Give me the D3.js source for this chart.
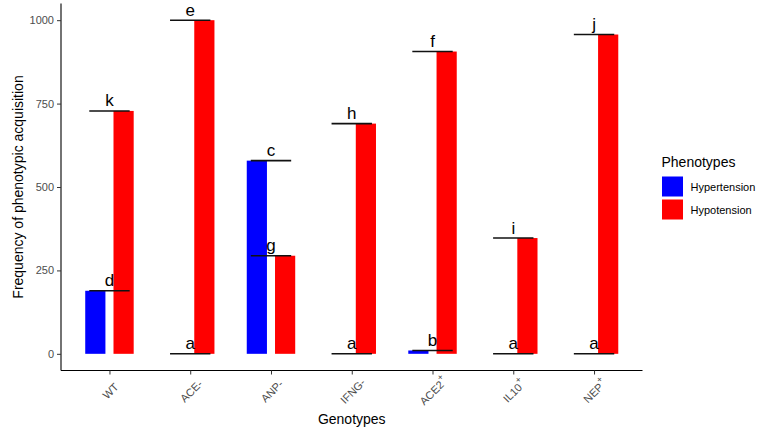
<!DOCTYPE html>
<html><head><meta charset="utf-8">
<script src="https://cdn.jsdelivr.net/npm/d3@7"></script>
<style>body{margin:0;background:#fff}svg{display:block}text{font-family:"Liberation Sans",Arial,sans-serif}</style>
</head><body>
<svg id="c" width="758" height="433"></svg>
<script>
const categories = ["WT","ACE-","ANP-","IFNG-","ACE2+","IL10+","NEP+"];
const hypertension = [189, 0, 579, 0, 10, 0, 0];
const hypotension = [728, 1000, 294, 690, 906, 347, 957];
const lettersHyper = ["d","a","c","a","b","a","a"];
const lettersHypo = ["k","e","g","h","f","i","j"];
const yTicks = [0, 250, 500, 750, 1000];
const phenotypes = ["Hypertension","Hypotension"];
const colors = ["#0000FF","#FF0000"];

const svg = d3.select("#c");
const L = 61, R = 642.5, T = 3.5, B = 370.5;
const x = d3.scalePoint().domain(categories).range([L, R]).padding(0.6);
const step = x.step();
const y = d3.scaleLinear().domain([-50, 1050]).range([B, T]);
const color = d3.scaleOrdinal().domain(phenotypes).range(colors);

const series = [hypertension, hypotension];
const letters = [lettersHyper, lettersHypo];
const bw = 0.25 * step, dodge = 0.175 * step;

// bars
series.forEach((vals, si) => {
  svg.append("g").selectAll("rect").data(vals).join("rect")
    .attr("x", (d, i) => x(categories[i]) + (si === 0 ? -dodge : dodge) - bw / 2)
    .attr("width", bw)
    .attr("y", d => Math.min(y(d), y(0)))
    .attr("height", d => Math.abs(y(0) - y(d)))
    .attr("fill", color(phenotypes[si]));
});

// letter lines + labels
series.forEach((vals, si) => {
  const g = svg.append("g");
  g.selectAll("line").data(vals).join("line")
    .attr("x1", (d, i) => x(categories[i]) - 0.25 * step)
    .attr("x2", (d, i) => x(categories[i]) + 0.25 * step)
    .attr("y1", d => y(d)).attr("y2", d => y(d))
    .attr("stroke", "#111").attr("stroke-width", 1.6);
  g.selectAll("text").data(vals).join("text")
    .attr("x", (d, i) => x(categories[i]))
    .attr("y", d => y(d) - 4.5)
    .attr("text-anchor", "middle")
    .attr("font-size", 17)
    .attr("fill", "#000")
    .text((d, i) => letters[si][i]);
});

// y axis
const ya = svg.append("g").attr("transform", `translate(${L},0)`)
  .call(d3.axisLeft(y).tickValues(yTicks).tickFormat(d3.format("d")).tickSize(4).tickPadding(3));
ya.select(".domain").attr("d", `M0,${T}V${B}`).attr("stroke", "#000").attr("stroke-width", 1.1);
ya.selectAll(".tick line").attr("stroke", "#333");
ya.selectAll(".tick text").attr("font-size", 11).attr("fill", "#4d4d4d")
  .style("font-family", '"Liberation Sans",Arial,sans-serif');

// x axis
const xa = svg.append("g").attr("transform", `translate(0,${B})`)
  .call(d3.axisBottom(x).tickSize(4).tickFormat(""));
xa.select(".domain").attr("d", `M${L},0H${R}`).attr("stroke", "#000").attr("stroke-width", 1.1);
xa.selectAll(".tick line").attr("stroke", "#333");

const xl = svg.append("g").selectAll("text").data(categories).join("text")
  .attr("transform", d => `translate(${x(d) + 1},391) rotate(-45)`)
  .attr("text-anchor", "middle")
  .attr("dominant-baseline", "central")
  .attr("font-size", 11).attr("fill", "#4d4d4d");
xl.each(function(d) {
  const t = d3.select(this);
  if (d.endsWith("+")) {
    t.append("tspan").text(d.slice(0, -1));
    t.append("tspan").attr("baseline-shift", "super").attr("font-size", 9).text("+");
  } else {
    t.text(d);
  }
});

// axis titles
svg.append("text").attr("x", (L + R) / 2).attr("y", 424)
  .attr("text-anchor", "middle").attr("font-size", 14).attr("fill", "#000").text("Genotypes");
svg.append("text").attr("transform", `translate(23,${(T + B) / 2}) rotate(-90)`)
  .attr("text-anchor", "middle").attr("font-size", 14).attr("fill", "#000")
  .text("Frequency of phenotypic acquisition");

// legend
const lg = svg.append("g").attr("transform", "translate(661.5,0)");
lg.append("text").attr("x", 0).attr("y", 167).attr("font-size", 14).attr("fill", "#000").text("Phenotypes");
phenotypes.forEach((p, i) => {
  lg.append("rect").attr("x", 0.5).attr("y", 176.5 + i * 23).attr("width", 21).attr("height", 20)
    .attr("fill", color(p));
  lg.append("text").attr("x", 29).attr("y", 186.5 + i * 23).attr("dominant-baseline", "central")
    .attr("font-size", 11).attr("fill", "#000").text(p);
});
</script>
</body></html>
